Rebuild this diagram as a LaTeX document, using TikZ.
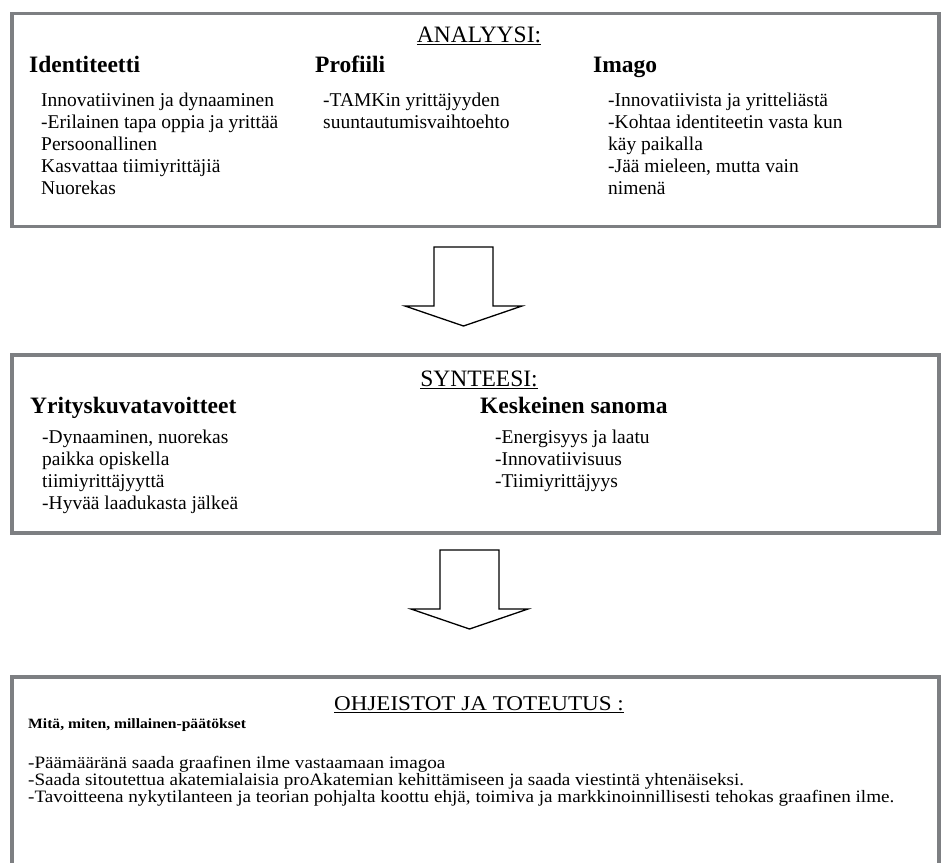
\documentclass[tikz,border=0pt]{standalone}
\usepackage{fontspec}
\setmainfont{Liberation Serif}
\newfontfamily\ohjefont[FakeStretch=1.1]{Liberation Serif}
\usetikzlibrary{positioning}
\definecolor{framegray}{RGB}{125,127,130}

\begin{document}
\begin{tikzpicture}[x=1pt, y=-1pt,
  panel/.style={draw=framegray, line width=3.6pt},
  ttl/.style={anchor=base, inner sep=0pt, font=\fontsize{23.5}{26}\selectfont},
  hdr/.style={anchor=base west, inner sep=0pt, font=\fontsize{23.5}{26}\selectfont\bfseries},
  itm/.style={anchor=base west, inner sep=0pt, font=\fontsize{19.5}{22}\selectfont},
  blockarr/.style={draw=black, line width=1.3pt, fill=white, line join=miter}
]
\useasboundingbox (0,0) rectangle (944,862);

% panels
\draw[panel] (12,13.5) rectangle (939,226.5);
\draw[panel] (12,355) rectangle (939,533);
\draw[panel] (12,677) rectangle (939,890);

% analyysi
\node[ttl] (ana) at (479,42) {\underline{ANALYYSI:}};
\node[hdr] (idt) at (29,72) {Identiteetti};
\node[hdr] (prof) at (315,72) {Profiili};
\node[hdr] (img) at (593,72) {Imago};
\foreach \t [count=\i] in {Innovatiivinen ja dynaaminen, -Erilainen tapa oppia ja yrittää,
    Persoonallinen, Kasvattaa tiimiyrittäjiä, Nuorekas}
  \node[itm] (idt\i) at (41,{106+22*(\i-1)}) {\t};
\foreach \t [count=\i] in {-TAMKin yrittäjyyden, suuntautumisvaihtoehto}
  \node[itm] (prof\i) at (323,{106+22*(\i-1)}) {\t};
\foreach \t [count=\i] in {-Innovatiivista ja yritteliästä, -Kohtaa identiteetin vasta kun,
    käy paikalla, {-Jää mieleen, mutta vain}, nimenä}
  \node[itm] (img\i) at (608,{106+22*(\i-1)}) {\t};

% synteesi
\node[ttl] (syn) at (479,386) {\underline{SYNTEESI:}};
\node[hdr] (ytav) at (30,413) {Yrityskuvatavoitteet};
\node[hdr] (sanoma) at (480,413) {Keskeinen sanoma};
\foreach \t [count=\i] in {{-Dynaaminen, nuorekas}, paikka opiskella, tiimiyrittäjyyttä,
    -Hyvää laadukasta jälkeä}
  \node[itm] (ytav\i) at (42,{443+22.3*(\i-1)}) {\t};
\foreach \t [count=\i] in {-Energisyys ja laatu, -Innovatiivisuus, -Tiimiyrittäjyys}
  \node[itm] (sanoma\i) at (495,{443+22.3*(\i-1)}) {\t};

% ohjeistot ja toteutus
\node[ttl, font=\ohjefont\fontsize{21}{24}\selectfont] (ohje) at (479,710)
  {\underline{OHJEISTOT JA TOTEUTUS :}};
\node[itm, font=\ohjefont\fontsize{14.2}{16}\selectfont\bfseries] (paat) at (28,728)
  {Mitä, miten, millainen-päätökset};
\foreach \t [count=\i] in {-Päämääränä saada graafinen ilme vastaamaan imagoa,
    -Saada sitoutettua akatemialaisia proAkatemian kehittämiseen ja saada viestintä yhtenäiseksi.,
    {-Tavoitteena nykytilanteen ja teorian pohjalta koottu ehjä, toimiva ja markkinoinnillisesti tehokas graafinen ilme.}}
  \node[itm, font=\ohjefont\fontsize{17.4}{19}\selectfont] (ohje\i) at (28,{768+17*(\i-1)}) {\t};

% block arrows
\coordinate (tipA) at (463.5,326);
\coordinate (tipB) at (469.5,629);
\foreach \c in {tipA, tipB}
  \draw[blockarr] (\c) -- ++(-58.5,-20) -- ++(29,0) -- ++(0,-59) -- ++(59,0)
    -- ++(0,59) -- ++(29,0) -- cycle;
\end{tikzpicture}
\end{document}
